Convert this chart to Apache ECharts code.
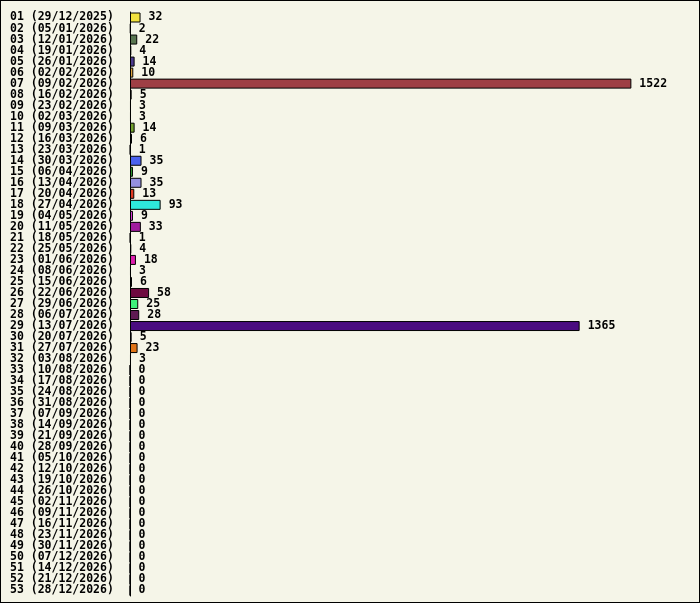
<!DOCTYPE html>
<html>
<head>
<meta charset="utf-8">
<script src="https://cdn.jsdelivr.net/npm/echarts@6/dist/echarts.min.js"></script>
<style>
    html, body {margin:0;padding:0;background:#f5f5e8;}
    #chart {width:698px;height:601px;border:1px solid #000;background:#f5f5e8;}
</style>
</head>
<body>
<div id="chart"></div>
<script>
var weeks = ['01','02','03','04','05','06','07','08','09','10','11','12','13','14','15','16','17','18','19','20',
    '21','22','23','24','25','26','27','28','29','30','31','32','33','34','35','36','37','38','39','40',
    '41','42','43','44','45','46','47','48','49','50','51','52','53'];
var dates = ['29/12/2025','05/01/2026','12/01/2026','19/01/2026','26/01/2026','02/02/2026','09/02/2026',
    '16/02/2026','23/02/2026','02/03/2026','09/03/2026','16/03/2026','23/03/2026','30/03/2026',
    '06/04/2026','13/04/2026','20/04/2026','27/04/2026','04/05/2026','11/05/2026','18/05/2026',
    '25/05/2026','01/06/2026','08/06/2026','15/06/2026','22/06/2026','29/06/2026','06/07/2026',
    '13/07/2026','20/07/2026','27/07/2026','03/08/2026','10/08/2026','17/08/2026','24/08/2026',
    '31/08/2026','07/09/2026','14/09/2026','21/09/2026','28/09/2026','05/10/2026','12/10/2026',
    '19/10/2026','26/10/2026','02/11/2026','09/11/2026','16/11/2026','23/11/2026','30/11/2026',
    '07/12/2026','14/12/2026','21/12/2026','28/12/2026'];
var counts = [32, 2, 22, 4, 14, 10, 1522, 5, 3, 3, 14, 6, 1, 35, 9, 35, 13, 93, 9, 33,
    1, 4, 18, 3, 6, 58, 25, 28, 1365, 5, 23, 3, 0, 0, 0, 0, 0, 0, 0, 0,
    0, 0, 0, 0, 0, 0, 0, 0, 0, 0, 0, 0, 0];
var colors = ['#f2e23e','#3a6fb0','#587550','#2a2a2a','#4b3a8e','#e0a53e','#9e3f45','#2a2a2a','#7a5a3a','#5a8a8a',
    '#72a22e','#2a2a2a','#8a6a2a','#4a62ee','#2e9a2e','#9490e0','#e23a22','#2ee8dc','#e23ee0','#a01e9e',
    '#6a6a6a','#3a3a3a','#de1eae','#6a4a2a','#2a2a2a','#6e0a40','#3ef07a','#5e1a52','#4a0c80','#3a3a6a',
    '#e07418','#8a8a3a','#000','#000','#000','#000','#000','#000','#000','#000',
    '#000','#000','#000','#000','#000','#000','#000','#000','#000','#000','#000','#000','#000'];

var cats = weeks.map(function (w, i) { return w + ' (' + dates[i] + ')'; });
var barData = counts.map(function (v, i) {
    return {value: v, itemStyle: {color: colors[i]}};
});

var chart = echarts.init(document.getElementById('chart'));
var fontMono = '"DejaVu Sans Mono", "Liberation Mono", monospace';
chart.setOption({
    backgroundColor: '#f5f5e8',
    animation: false,
    grid: {left: 129, top: 11, width: 560, height: 584},
    xAxis: {
        type: 'value', min: 0, max: 1700,
        show: false
    },
    yAxis: {
        type: 'category',
        data: cats,
        inverse: true,
        axisLine: {show: true, lineStyle: {color: '#000', width: 1}},
        axisTick: {show: false},
        axisLabel: {
            align: 'left', margin: 120, interval: 0,
            color: '#000', fontFamily: fontMono, fontWeight: 'bold', fontSize: 11.5
        }
    },
    series: [{
        type: 'bar',
        data: barData,
        barWidth: 10,
        itemStyle: {borderColor: '#000', borderWidth: 1},
        label: {
            show: true, position: 'right', distance: 8,
            color: '#000', fontFamily: fontMono, fontWeight: 'bold', fontSize: 11.5
        }
    }]
});
</script>
</body>
</html>
